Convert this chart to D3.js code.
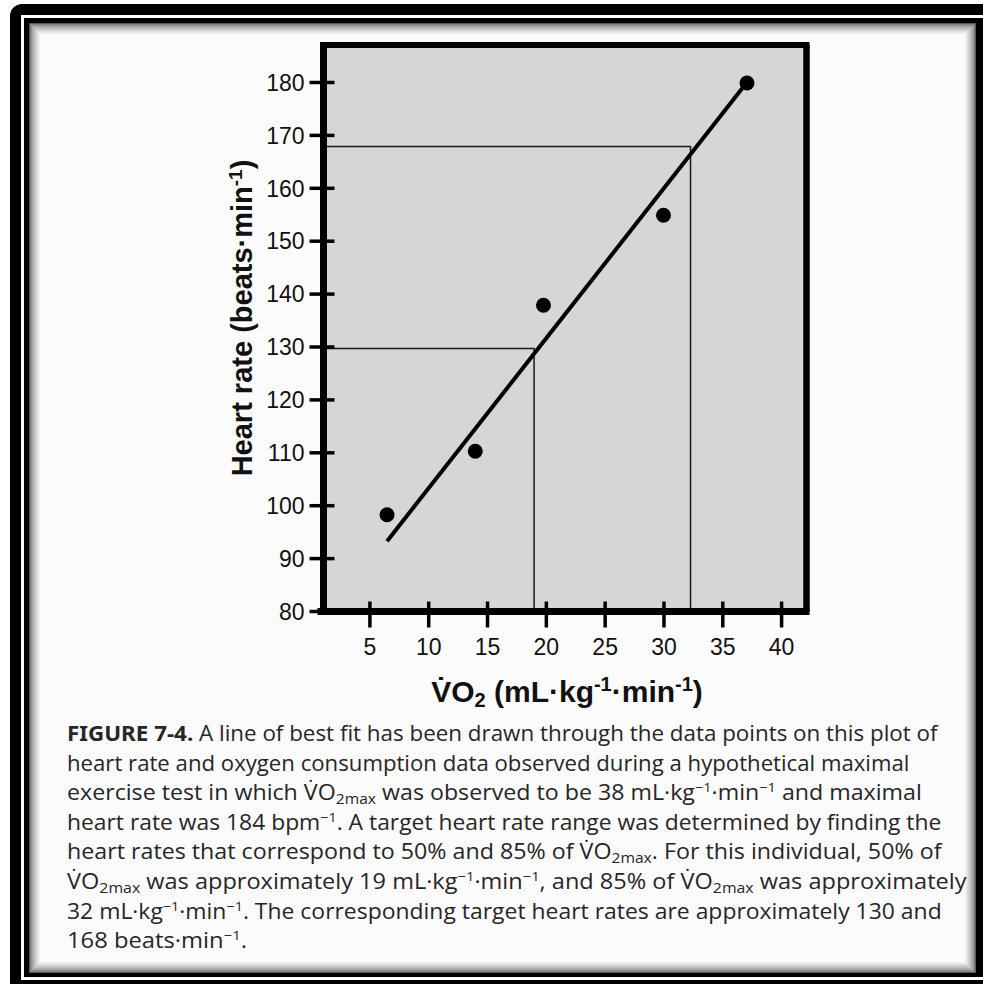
<!DOCTYPE html>
<html><head><meta charset="utf-8">
<script src="https://cdn.jsdelivr.net/npm/d3@7"></script>
<style>body{margin:0;background:#fff;}svg{display:block;}</style>
</head><body>
<svg id="c" width="983" height="984"></svg>
<script>
// ---- data ----
const xTicks = [5, 10, 15, 20, 25, 30, 35, 40];
const yTicks = [80, 90, 100, 110, 120, 130, 140, 150, 160, 170, 180];
const vo2 = [6.5, 14.0, 19.8, 30.0, 37.1];
const heartRate = [98.2, 110.2, 137.8, 154.8, 179.8];
const fitVO2 = [6.5, 36.7];
const fitHR = [93.2, 178.8];
const targetVO2 = [19.0, 32.3];
const targetHR = [129.6, 167.8];
const yTitle = "Heart rate (beats\u00B7min";
const xTitle = "V\u0307O";
const captionLines = [
  [["FIGURE 7-4.", "b"], [" A line of best fit has been drawn through the data points on this plot of", ""]],
  [["heart rate and oxygen consumption data observed during a hypothetical maximal", ""]],
  [["exercise test in which V\u0307O", ""], ["2max", "sub"], [" was observed to be 38 mL\u00B7kg", ""], ["\u22121", "sup"], ["\u00B7min", ""], ["\u22121", "sup"], [" and maximal", ""]],
  [["heart rate was 184 bpm", ""], ["\u22121", "sup"], [". A target heart rate range was determined by finding the", ""]],
  [["heart rates that correspond to 50% and 85% of V\u0307O", ""], ["2max", "sub"], [". For this individual, 50% of", ""]],
  [["V\u0307O", ""], ["2max", "sub"], [" was approximately 19 mL\u00B7kg", ""], ["\u22121", "sup"], ["\u00B7min", ""], ["\u22121", "sup"], [", and 85% of V\u0307O", ""], ["2max", "sub"], [" was approximately", ""]],
  [["32 mL\u00B7kg", ""], ["\u22121", "sup"], ["\u00B7min", ""], ["\u22121", "sup"], [". The corresponding target heart rates are approximately 130 and", ""]],
  [["168 beats\u00B7min", ""], ["\u22121", "sup"], [".", ""]]
];
const captionRightEdges = [938, 910, 922, 942, 942, 967, 942, 247];

// ---- layout ----
const svg = d3.select("#c");
const plot = {left: 323.5, right: 806.5, top: 45, bottom: 611.5};
const x = d3.scaleLinear().domain([5, 40]).range([369.4, 781.1]);
const y = d3.scaleLinear().domain([80, 180]).range([611, 82]);

// page frame
svg.append("rect").attr("x", 10).attr("y", 4).attr("width", 1000).attr("height", 1000).attr("rx", 12).attr("fill", "#000");
svg.append("rect").attr("x", 21).attr("y", 15).attr("width", 1000).attr("height", 965).attr("fill", "#fff");
svg.append("rect").attr("x", 24).attr("y", 18).attr("width", 1000).attr("height", 959).attr("fill", "#000");
const paper = {x: 29, y: 23, w: 947, h: 950};
svg.append("rect").attr("x", paper.x).attr("y", paper.y).attr("width", paper.w).attr("height", paper.h).attr("fill", "#fbfbfb");
const shade = d3.interpolateRgb("#5a5a5a", "#fbfbfb");
for (let i = 0; i < 12; i++) {
  const t = i / 11;
  svg.append("rect")
    .attr("x", paper.x + i + 0.5).attr("y", paper.y + i + 0.5)
    .attr("width", paper.w - 2 * i - 1).attr("height", paper.h - 2 * i - 1)
    .attr("fill", "none").attr("stroke", shade(Math.pow(t, 0.6))).attr("stroke-width", 1);
}

// plot background
svg.append("rect").attr("x", plot.left).attr("y", plot.top)
  .attr("width", plot.right - plot.left).attr("height", plot.bottom - plot.top)
  .attr("fill", "#d6d6d6");

// target lines
const tg = svg.append("g").attr("stroke", "#1a1a1a").attr("stroke-width", 1.5).attr("fill", "none");
targetVO2.forEach((v, i) => {
  tg.append("path").attr("d", `M${plot.left},${y(targetHR[i])}H${x(v)}V${plot.bottom}`);
});

// fit line
svg.append("line")
  .attr("x1", x(fitVO2[0])).attr("y1", y(fitHR[0]))
  .attr("x2", x(fitVO2[1])).attr("y2", y(fitHR[1]))
  .attr("stroke", "#000").attr("stroke-width", 4);

// points
svg.append("g").selectAll("circle").data(vo2).join("circle")
  .attr("cx", d => x(d)).attr("cy", (d, i) => y(heartRate[i])).attr("r", 7.5).attr("fill", "#000");

// frame
const fr = svg.append("g").attr("stroke", "#000").attr("fill", "none");
fr.append("line").attr("x1", plot.left - 3).attr("x2", plot.right + 3).attr("y1", plot.top).attr("y2", plot.top).attr("stroke-width", 6);
fr.append("line").attr("x1", plot.right).attr("x2", plot.right).attr("y1", plot.top).attr("y2", plot.bottom).attr("stroke-width", 6.5);
fr.append("line").attr("x1", plot.left).attr("x2", plot.left).attr("y1", plot.top - 3).attr("y2", plot.bottom + 3).attr("stroke-width", 7);
fr.append("line").attr("x1", plot.left - 6).attr("x2", plot.right + 3).attr("y1", plot.bottom).attr("y2", plot.bottom).attr("stroke-width", 7);

// axes
const font = "'Liberation Sans', Arial, Helvetica, sans-serif";
const yAxis = svg.append("g").attr("transform", `translate(${plot.left},0)`)
  .call(d3.axisLeft(y).tickValues(yTicks).tickSize(14).tickFormat(d3.format("d")));
yAxis.select(".domain").remove();
yAxis.selectAll(".tick line").attr("x1", 11).attr("x2", -14).attr("stroke", "#000").attr("stroke-width", 3.5);
yAxis.selectAll(".tick text").attr("x", -19).attr("dy", "0.36em")
  .attr("font-family", font).attr("font-size", 23).attr("fill", "#111");

const xAxis = svg.append("g").attr("transform", `translate(0,${plot.bottom})`)
  .call(d3.axisBottom(x).tickValues(xTicks).tickSize(16).tickFormat(d3.format("d")));
xAxis.select(".domain").remove();
xAxis.selectAll(".tick line").attr("y1", -10).attr("y2", 16).attr("stroke", "#000").attr("stroke-width", 3.5);
xAxis.selectAll(".tick text").attr("y", 43.5).attr("dy", 0)
  .attr("font-family", font).attr("font-size", 23).attr("fill", "#111");

// axis titles
const yt = svg.append("text").attr("transform", "translate(252,318) rotate(-90)")
  .attr("text-anchor", "middle").attr("font-family", font).attr("font-weight", "bold")
  .attr("font-size", 29).attr("fill", "#111");
yt.append("tspan").text(yTitle);
yt.append("tspan").attr("font-size", 19).attr("dy", -10).text("-1");
yt.append("tspan").attr("dy", 10).text(")");

const xt = svg.append("text").attr("transform", "translate(567,702)")
  .attr("text-anchor", "middle").attr("font-family", font).attr("font-weight", "bold")
  .attr("font-size", 30).attr("fill", "#111");
xt.append("tspan").text(xTitle);
xt.append("tspan").attr("font-size", 20).attr("dy", 5).text("2");
xt.append("tspan").attr("dy", -5).text(" (mL\u00B7kg");
xt.append("tspan").attr("font-size", 20).attr("dy", -11).text("-1");
xt.append("tspan").attr("dy", 11).text("\u00B7min");
xt.append("tspan").attr("font-size", 20).attr("dy", -11).text("-1");
xt.append("tspan").attr("dy", 11).text(")");

// caption
const capFont = "'Open Sans', 'Noto Sans', sans-serif";
const capLeft = 67, capTop = 741, capStep = 29.6;
captionLines.forEach((segs, i) => {
  const t = svg.append("text").attr("font-family", capFont).attr("font-size", 21.5).attr("fill", "#262626")
    .attr("x", 0).attr("y", 0);
  let shift = 0;
  segs.forEach(([s, k]) => {
    const sp = t.append("tspan").text(s);
    let target = 0, size = null;
    if (k === "b") sp.attr("font-weight", "bold").attr("font-family", "'Noto Sans', 'Open Sans', sans-serif");
    if (k === "sup") { target = -8; size = 13.5; }
    if (k === "sub") { target = 4; size = 14.5; }
    if (size) sp.attr("font-size", size);
    sp.attr("dy", target - shift);
    shift = target;
  });
  const w = t.node().getComputedTextLength();
  const sx = (captionRightEdges[i] - capLeft) / w;
  t.attr("transform", `translate(${capLeft},${capTop + i * capStep}) scale(${sx},1)`);
});
</script>
</body></html>
